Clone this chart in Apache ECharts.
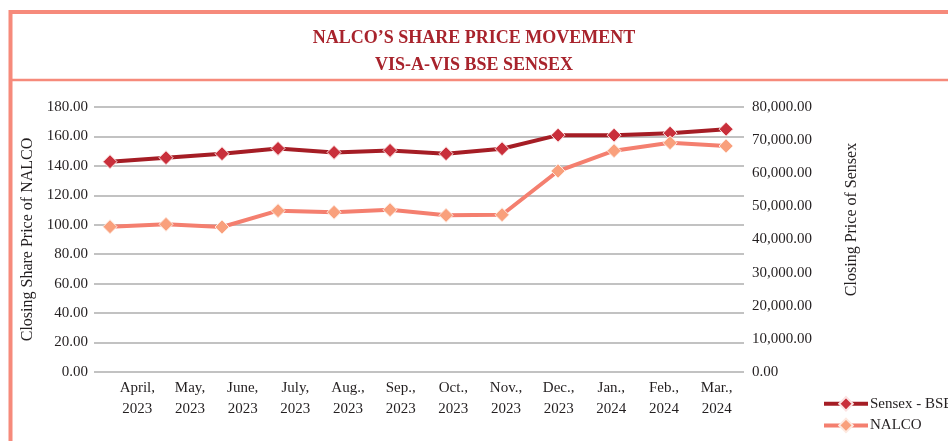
<!DOCTYPE html>
<html>
<head>
<meta charset="utf-8">
<script src="https://cdn.jsdelivr.net/npm/echarts@6/dist/echarts.min.js"></script>
<style>
html, body { margin: 0; padding: 0; background: #fff; }
#main { width: 948px; height: 441px; }
</style>
</head>
<body>
<div id="main"></div>
<script>
// months on the x axis
const months = ["April,\n2023", "May,\n2023", "June,\n2023", "July,\n2023", "Aug.,\n2023", "Sep.,\n2023",
    "Oct.,\n2023", "Nov.,\n2023", "Dec.,\n2023", "Jan.,\n2024", "Feb.,\n2024", "Mar.,\n2024"];
// closing prices
const sensex = [63500, 64700, 65900, 67500, 66300, 66900, 65900, 67400, 71500, 71500, 72100, 73300];
const nalco = [98.7, 100.3, 98.5, 109.6, 108.5, 110.2, 106.4, 106.8, 136.5, 150.3, 155.7, 153.5];
const nalcoTicks = { min: 0, max: 180, interval: 20 };
const sensexTicks = { min: 0, max: 80000, interval: 10000 };

const FONT = "Liberation Serif";
const border = "#f68a7b";

function withCommas(v) {
    let parts = v.toFixed(2).split(".");
    parts[0] = parts[0].replace(/\B(?=(\d{3})+(?!\d))/g, ",");
    return parts.join(".");
}

const myChart = echarts.init(document.getElementById("main"));
let option = {
    animation: false,
    textStyle: { fontFamily: FONT },
    title: {
        text: "NALCO’S SHARE PRICE MOVEMENT\nVIS-A-VIS BSE SENSEX",
        left: "center",
        top: 20,
        textStyle: {
            fontFamily: FONT,
            fontSize: 18,
            fontWeight: "bold",
            color: "#a8232c",
            lineHeight: 27,
        },
    },
    graphic: [
        {
            type: "rect",
            shape: { x: 10.5, y: 12, width: 960, height: 460 },
            style: { fill: null, stroke: border, lineWidth: 4 },
            silent: true,
        },
        {
            type: "line",
            shape: { x1: 10, y1: 80, x2: 948, y2: 80 },
            style: { stroke: border, lineWidth: 2.5 },
            silent: true,
        },
    ],
    legend: {
        orient: "vertical",
        left: 817,
        top: 391,
        itemGap: 6,
        itemWidth: 44,
        itemHeight: 17,
        lineStyle: { width: 4 },
        textStyle: { fontFamily: FONT, fontSize: 15, color: "#231f20", padding: [0, 0, 0, -3] },
        data: ["Sensex - BSE", "NALCO"],
    },
    grid: [
        { left: 94, right: 204, top: 107, bottom: 69 },
        { left: 111, right: 205, top: 107, bottom: 69 },
    ],
    xAxis: [
        {
            type: "value",
            gridIndex: 0,
            min: -0.286,
            max: 11.32,
            show: false,
        },
        {
            type: "category",
            gridIndex: 1,
            data: months,
            axisLine: { show: false },
            axisTick: { show: false },
            axisLabel: {
                interval: 0,
                margin: 6,
                fontFamily: FONT,
                fontSize: 15,
                lineHeight: 21,
                color: "#231f20",
            },
        },
    ],
    yAxis: [
        {
            type: "value",
            gridIndex: 0,
            position: "left",
            min: nalcoTicks.min,
            max: nalcoTicks.max,
            interval: nalcoTicks.interval,
            name: "Closing Share Price of NALCO",
            nameLocation: "middle",
            nameRotate: 90,
            nameGap: 56,
            nameTextStyle: { fontFamily: FONT, fontSize: 16, color: "#231f20" },
            axisLine: { show: false },
            axisTick: { show: false },
            axisLabel: {
                margin: 6,
                fontFamily: FONT,
                fontSize: 15,
                color: "#231f20",
                formatter: (v) => v.toFixed(2),
            },
            splitLine: { lineStyle: { color: "#c2c2c2", width: 2 } },
        },
        {
            type: "value",
            gridIndex: 0,
            position: "right",
            min: sensexTicks.min,
            max: sensexTicks.max,
            interval: sensexTicks.interval,
            name: "Closing Price of Sensex",
            nameLocation: "middle",
            nameRotate: 90,
            nameGap: 100,
            nameTextStyle: { fontFamily: FONT, fontSize: 16, color: "#231f20", padding: [0, 0, 0, 40] },
            axisLine: { show: false },
            axisTick: { show: false },
            axisLabel: {
                margin: 8,
                fontFamily: FONT,
                fontSize: 15,
                color: "#231f20",
                formatter: withCommas,
            },
            splitLine: { show: false },
        },
        {
            type: "value",
            gridIndex: 1,
            show: false,
        },
    ],
    series: [
        {
            name: "Sensex - BSE",
            type: "line",
            xAxisIndex: 0,
            yAxisIndex: 1,
            data: sensex.map((v, i) => [i, v]),
            symbol: "diamond",
            symbolSize: 14,
            lineStyle: { color: "#a51d25", width: 4 },
            itemStyle: { color: "#c92f3b", borderColor: "#fbe3e3", borderWidth: 1 },
        },
        {
            name: "NALCO",
            type: "line",
            xAxisIndex: 0,
            yAxisIndex: 0,
            data: nalco.map((v, i) => [i, v]),
            symbol: "diamond",
            symbolSize: 14,
            lineStyle: { color: "#f47f6f", width: 4 },
            itemStyle: { color: "#f9a07c", borderColor: "#fde9e0", borderWidth: 1 },
        },
    ],
};
myChart.setOption(option);
</script>
</body>
</html>
